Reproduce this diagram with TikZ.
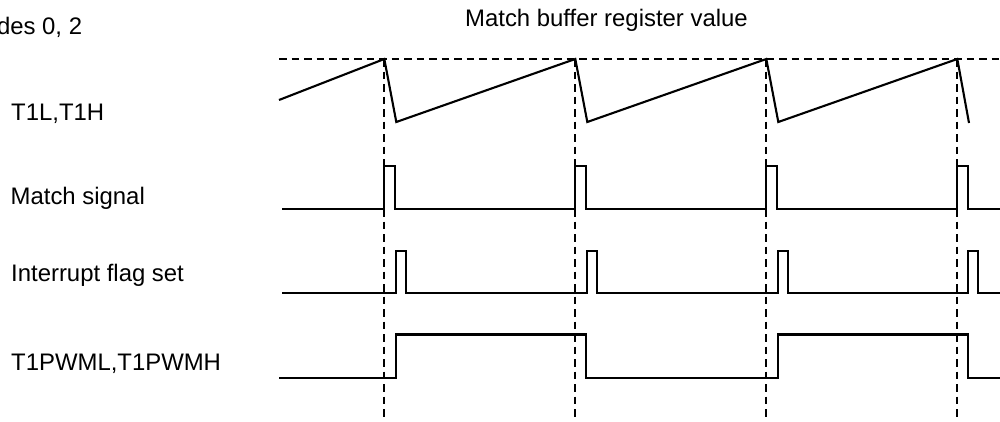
\documentclass[tikz,border=0pt]{standalone}
\usepackage{fontspec}
\setmainfont{Liberation Sans}
\begin{document}
\begin{tikzpicture}[x=1pt,y=-1pt,
  wave/.style={line width=2.1pt,line join=miter},
  guide/.style={line width=1.8pt,dash pattern=on 7.5pt off 5pt},
  lbl/.style={anchor=base west,inner sep=0pt,font=\fontsize{23.9}{28}\selectfont}]
\useasboundingbox (0,0) rectangle (1000,421);
% labels
\node[lbl,anchor=base east] (modes) at (82.3,34.3) {des 0, 2};
\node[lbl] (mbr) at (465,26.7) {Match buffer register value};
\node[lbl] (lt1) at (11,120) {T1L,T1H};
\node[lbl] (lms) at (10.5,204) {Match signal};
\node[lbl] (lif) at (11,281.7) {Interrupt flag set};
\node[lbl] (lpw) at (11,370) {T1PWML,T1PWMH};
% guides
\draw[guide] (279,59) -- (1000,59);
\foreach \p in {384.3,575.3,766.3,957.3}
  \draw[guide] (\p,59) -- (\p,418.5);
% sawtooth
\draw[wave] (279,100) -- (384.3,59) -- (396.3,122) -- (575.3,59) -- (587.3,122)
  -- (766.3,59) -- (778.3,122) -- (957.3,59) -- (969,123);
% match signal
\draw[wave] (282,209) -- (384.3,209) -- (384.3,166) -- (395.3,166) -- (395.3,209)
  -- (575.3,209) -- (575.3,166) -- (586.3,166) -- (586.3,209)
  -- (766.3,209) -- (766.3,166) -- (777.3,166) -- (777.3,209)
  -- (957.3,209) -- (957.3,166) -- (968.3,166) -- (968.3,209) -- (1000,209);
% interrupt flag
\draw[wave] (282,293) -- (396.3,293) -- (396.3,251) -- (406.3,251) -- (406.3,293)
  -- (587.3,293) -- (587.3,251) -- (597.3,251) -- (597.3,293)
  -- (778.3,293) -- (778.3,251) -- (788.3,251) -- (788.3,293)
  -- (968.3,293) -- (968.3,251) -- (978.3,251) -- (978.3,293) -- (1000,293);
% PWM
\draw[wave] (279,378) -- (395.8,378) -- (395.8,334.5) -- (586.3,334.5) -- (586.3,378)
  -- (777.8,378) -- (777.8,334.5) -- (968.3,334.5) -- (968.3,378) -- (1000,378);
\end{tikzpicture}
\end{document}
